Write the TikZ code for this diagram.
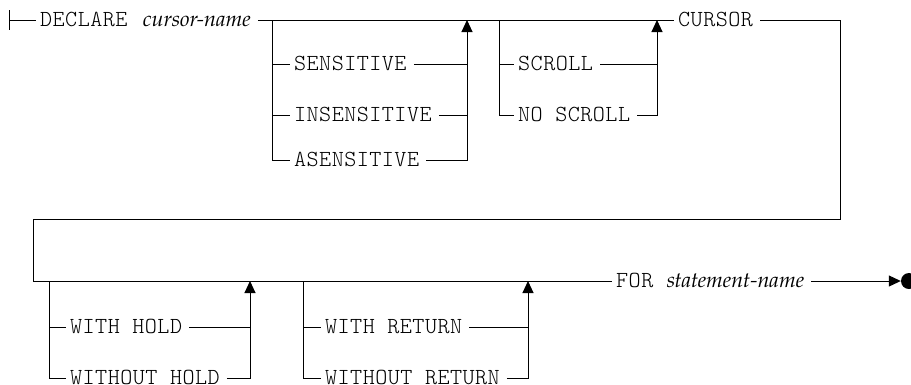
\documentclass[tikz,border=0pt]{standalone}
\usepackage{fontspec}
\setmainfont{Liberation Serif}
\newfontfamily\kwfont{lmmonolt10-regular.otf}[LetterSpace=2]
\newfontfamily\varfont{texgyrepagella-italic.otf}
\usetikzlibrary{arrows.meta,positioning}

\tikzset{
  rail/.style={line width=1pt},
  kw/.style={font=\kwfont\fontsize{23}{26}\selectfont, anchor=west,
    inner xsep=4pt, inner ysep=0pt, text height=12.5pt, text depth=0pt,
    execute at end node={\kern3pt}},
  var/.style={kw, font=\varfont\fontsize{21.5}{24}\selectfont},
  uparrow/.style={rail, -{Triangle[length=12pt,width=11pt]}},
}

\begin{document}
\begin{tikzpicture}[x=1pt, y=-1pt]
  \useasboundingbox (0,0) rectangle (911,384);

  % ---- first row ----
  \coordinate (start) at (9,20);
  \node[kw] (declare) at (36,20) {DECLARE};
  \node[var, right=4pt of declare] (cname) {cursor-name};
  \node[kw] (cursor) at (674,20) {CURSOR};
  \coordinate (turn1) at (840,20);

  \draw[rail] ([yshift=10pt]start) -- ([yshift=-10pt]start);
  \draw[rail] (start) -- (declare.west);
  \draw[rail] (cname.east) -- (cursor.west);

  % sensitivity choice
  \coordinate (br1) at (272,20);
  \coordinate (jn1) at (467,20);
  \node[kw] (sens)   at (290,64)  {SENSITIVE};
  \node[kw] (insens) at (290,115) {INSENSITIVE};
  \node[kw] (asens)  at (290,160) {ASENSITIVE\ };
  \draw[rail] (br1) |- (asens.west);
  \draw[rail] (br1 |- sens) -- (sens.west);
  \draw[rail] (br1 |- insens) -- (insens.west);
  \draw[rail] (sens.east) -- (sens -| jn1);
  \draw[rail] (insens.east) -- (insens -| jn1);
  \draw[uparrow] (asens.east) -| (jn1);

  % scroll choice
  \coordinate (br2) at (499,20);
  \coordinate (jn2) at (657,20);
  \node[kw] (scroll)   at (514,64)  {SCROLL};
  \node[kw] (noscroll) at (514,115) {NO SCROLL};
  \draw[rail] (br2) |- (noscroll.west);
  \draw[rail] (br2 |- scroll) -- (scroll.west);
  \draw[rail] (scroll.east) -- (scroll -| jn2);
  \draw[uparrow] (noscroll.east) -| (jn2);

  % ---- wrap to second row ----
  \coordinate (turn2) at (840,219);
  \coordinate (turn3) at (33,219);
  \coordinate (row2)  at (33,281);
  \node[kw] (forkw) at (612,281) {FOR};
  \node[var, right=2pt of forkw] (stmt) {statement-name};
  \node[circle, fill, inner sep=0pt, minimum size=16pt] (stop) at (909,281) {};

  \draw[rail] (cursor.east) -- (turn1) -- (turn2) -- (turn3) -- (row2) -- (forkw.west);
  \draw[uparrow] (stmt.east) -- (stop.west);

  % hold choice
  \coordinate (br3) at (49,281);
  \coordinate (jn3) at (250,281);
  \node[kw] (hold)   at (66,327) {WITH HOLD};
  \node[kw] (nohold) at (66,378) {WITHOUT HOLD};
  \draw[rail] (br3) |- (nohold.west);
  \draw[rail] (br3 |- hold) -- (hold.west);
  \draw[rail] (hold.east) -- (hold -| jn3);
  \draw[uparrow] (nohold.east) -| (jn3);

  % return choice
  \coordinate (br4) at (303,281);
  \coordinate (jn4) at (528,281);
  \node[kw] (ret)   at (321,327) {WITH RETURN};
  \node[kw] (noret) at (321,378) {WITHOUT RETURN};
  \draw[rail] (br4) |- (noret.west);
  \draw[rail] (br4 |- ret) -- (ret.west);
  \draw[rail] (ret.east) -- (ret -| jn4);
  \draw[uparrow] (noret.east) -| (jn4);

\end{tikzpicture}
\end{document}
